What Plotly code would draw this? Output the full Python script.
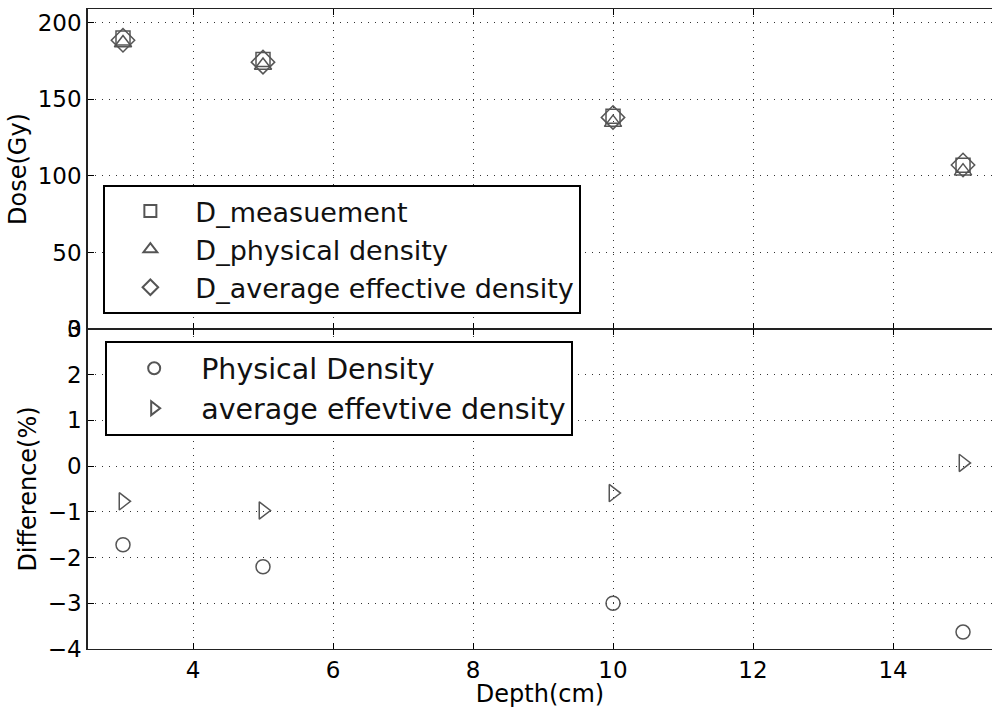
import plotly.graph_objects as go
from plotly.subplots import make_subplots

depth = [3, 5, 10, 15]
d_measurement = [190.0, 176.0, 139.0, 107.0]
d_physical = [186.8, 172.1, 134.8, 103.1]
d_average = [188.6, 174.3, 138.2, 107.1]
diff_physical = [-1.72, -2.2, -3.0, -3.63]
diff_average = [-0.77, -0.97, -0.59, 0.07]

x_ticks = [4, 6, 8, 10, 12, 14]
dose_ticks = [0, 50, 100, 150, 200]
diff_ticks = [-4, -3, -2, -1, 0, 1, 2, 3]

FONT = "DejaVu Sans"
EDGE = "#555555"

fig = make_subplots(rows=2, cols=1, shared_xaxes=True, vertical_spacing=0)

def mk(size, sym):
    return dict(symbol=sym, size=size, color=EDGE,
                line=dict(color=EDGE, width=1.5))

fig.add_trace(go.Scatter(x=depth, y=d_measurement, mode="markers", name="D_measuement",
                         marker=mk(14, "square-open"), legend="legend"), row=1, col=1)
fig.add_trace(go.Scatter(x=depth, y=d_physical, mode="markers", name="D_physical density",
                         marker=mk(15, "triangle-up-open"), legend="legend"), row=1, col=1)
fig.add_trace(go.Scatter(x=depth, y=d_average, mode="markers", name="D_average effective density",
                         marker=mk(18, "diamond-open"), legend="legend"), row=1, col=1)
fig.add_trace(go.Scatter(x=depth, y=diff_physical, mode="markers", name="Physical Density",
                         marker=mk(14, "circle-open"), legend="legend2"), row=2, col=1)
fig.add_trace(go.Scatter(x=depth, y=diff_average, mode="markers", name="average effevtive density",
                         marker=mk(15, "triangle-right-open"), legend="legend2"), row=2, col=1)

axis_common = dict(showline=True, linecolor="#222222",
                   ticks="inside", ticklen=6, tickwidth=1, tickcolor="black",
                   showgrid=True, gridcolor="#333333", gridwidth=1, griddash="1px,6px",
                   zeroline=False, automargin=False,
                   tickfont=dict(family=FONT, size=23, color="black"))

TITLE_FONT = dict(family=FONT, size=24, color="black")

for r in (1, 2):
    fig.update_xaxes(range=[2.5, 15.414], tickvals=x_ticks, mirror="ticks", linewidth=1.2,
                     row=r, col=1, **axis_common)
fig.update_xaxes(showticklabels=True, row=2, col=1,
                 title=dict(text="Depth(cm)", font=TITLE_FONT, standoff=0))
fig.update_xaxes(showticklabels=False, row=1, col=1)

fig.update_yaxes(range=[0, 209], tickvals=dose_ticks, row=1, col=1, linewidth=1.6,
                 title=dict(text="Dose(Gy)", font=TITLE_FONT, standoff=4),
                 **axis_common)
fig.update_yaxes(range=[-4, 3], tickvals=diff_ticks, row=2, col=1, linewidth=1.6,
                 title=dict(text="Difference(%)", font=TITLE_FONT, standoff=4),
                 **axis_common)

legend_common = dict(bgcolor="white", bordercolor="black", borderwidth=2,
                     xanchor="left", yanchor="top", itemsizing="constant",
                     tracegroupgap=0)

fig.update_layout(
    width=992, height=708,
    margin=dict(l=88, r=0, t=9, b=59),
    paper_bgcolor="white", plot_bgcolor="white",
    showlegend=True,
    legend=dict(x=0.017, y=0.725, font=dict(family=FONT, size=27, color="#111111"),
                itemwidth=80, **legend_common),
    legend2=dict(x=0.019, y=0.481, font=dict(family=FONT, size=28.5, color="#111111"),
                 itemwidth=84, **legend_common),
)

fig.write_html("out.html", post_script="document.body.style.margin='0';",
               config={"displayModeBar": False})
